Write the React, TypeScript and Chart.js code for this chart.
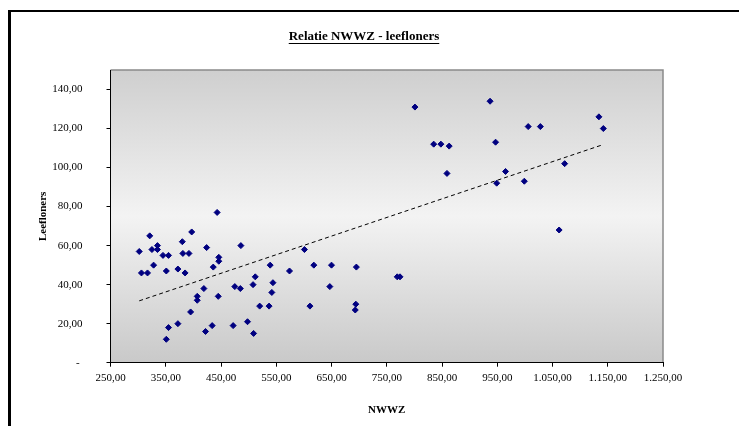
import React, { useEffect, useRef } from "react";
import { Chart, registerables } from "chart.js";

Chart.register(...registerables);

const nwwz = [
  443, 321, 397, 380, 302, 325, 335, 335, 345, 355, 381, 392, 424, 486, 446, 446,
  328, 306, 317, 351, 372, 385, 436, 539, 512, 508, 475, 485, 419, 407, 407, 445,
  520, 537, 542, 395, 355, 372, 351, 434, 422, 472, 498, 509, 601, 618, 650, 695,
  574, 769, 774, 544, 647, 611, 694, 693, 801, 937, 835, 848, 863, 947, 859, 949,
  1006, 1028, 1134, 1142, 965, 999, 1072, 1062,
];
const leefloners = [
  77, 65, 67, 62, 57, 58, 60, 58, 55, 55, 56, 56, 59, 60, 54, 52,
  50, 46, 46, 47, 48, 46, 49, 50, 44, 40, 39, 38, 38, 34, 32, 34,
  29, 29, 36, 26, 18, 20, 12, 19, 16, 19, 21, 15, 58, 50, 50, 49,
  47, 44, 44, 41, 39, 29, 30, 27, 131, 134, 112, 112, 111, 113, 97, 92,
  121, 121, 126, 120, 98, 93, 102, 68,
];
const trendX = [302, 1142];
const trendY = [31.7, 111.8];

const xTicks = [250, 350, 450, 550, 650, 750, 850, 950, 1050, 1150, 1250];
const yTicks = [0, 20, 40, 60, 80, 100, 120, 140];

const titleText = "Relatie NWWZ - leefloners";
const xTitle = "NWWZ";
const yTitle = "Leefloners";

const SERIF = '"Liberation Serif", "Times New Roman", serif';

function fmt(v: number): string {
  if (v === 0) return "- ";
  const parts = v.toFixed(2).split(".");
  const int = parts[0].replace(/\B(?=(\d{3})+(?!\d))/g, ".");
  return int + "," + parts[1];
}

const decor = {
  id: "decor",
  beforeDraw(chart: any) {
    const { ctx, chartArea: a } = chart;
    ctx.save();
    ctx.fillStyle = "#fff";
    ctx.fillRect(0, 0, chart.width, chart.height);
    // chart border
    ctx.fillStyle = "#000";
    ctx.fillRect(8, 10, 3, chart.height - 10);
    ctx.fillRect(8, 10, chart.width - 8, 2);
    // plot gradient
    const g = ctx.createLinearGradient(0, a.top, 0, a.bottom);
    g.addColorStop(0, "#cfcfcf");
    g.addColorStop(0.5, "#f3f3f3");
    g.addColorStop(1, "#c9c9c9");
    ctx.fillStyle = g;
    ctx.fillRect(a.left, a.top, a.right - a.left, a.bottom - a.top);
    // top/right border
    ctx.strokeStyle = "#8a8a8a";
    ctx.lineWidth = 1.5;
    ctx.beginPath();
    ctx.moveTo(a.left, a.top);
    ctx.lineTo(a.right, a.top);
    ctx.lineTo(a.right, a.bottom);
    ctx.stroke();
    ctx.restore();
  },
  afterDraw(chart: any) {
    const { ctx } = chart;
    ctx.save();
    ctx.font = "bold 13px " + SERIF;
    ctx.fillStyle = "#000";
    ctx.textAlign = "center";
    ctx.textBaseline = "middle";
    const cx = 364;
    const cy = 37;
    ctx.fillText(titleText, cx, cy);
    const w = ctx.measureText(titleText).width;
    ctx.fillRect(cx - w / 2, cy + 6, w, 1);
    ctx.restore();
  },
};

export default function App() {
  const ref = useRef<HTMLCanvasElement | null>(null);
  useEffect(() => {
    if (!ref.current) return;
    const chart = new Chart(ref.current, {
      type: "scatter",
      data: {
        datasets: [
          {
            label: "Trend",
            data: trendX.map((x, i) => ({ x, y: trendY[i] })),
            showLine: true,
            borderColor: "#000",
            borderWidth: 1,
            borderDash: [4, 3],
            pointRadius: 0,
            fill: false,
          } as any,
          {
            label: "Leefloners",
            data: nwwz.map((x, i) => ({ x, y: leefloners[i] })),
            pointStyle: "rectRot",
            pointRadius: 3,
            backgroundColor: "#000080",
            borderColor: "#000080",
            borderWidth: 1,
          },
        ],
      },
      plugins: [decor],
      options: {
        responsive: false,
        animation: false,
        layout: { padding: { left: 0, right: 76, top: 70, bottom: 0 } },
        plugins: {
          legend: { display: false },
          tooltip: { enabled: false },
          title: { display: false },
        },
        scales: {
          x: {
            type: "linear",
            min: 250,
            max: 1250,
            afterBuildTicks: (s: any) => {
              s.ticks = xTicks.map((v) => ({ value: v }));
            },
            afterFit: (s: any) => {
              s.height = 63.3;
            },
            border: { display: true, color: "#000", width: 1 },
            grid: { display: true, drawOnChartArea: false, drawTicks: true, tickLength: 4, color: "#000" },
            ticks: {
              color: "#000",
              font: { family: SERIF, size: 11 },
              padding: 5,
              maxRotation: 0,
              autoSkip: false,
              callback: (v: any) => fmt(Number(v)),
            },
            title: {
              display: true,
              text: xTitle,
              color: "#000",
              font: { family: SERIF, size: 11, weight: "bold" },
              padding: { top: 9, bottom: 9 },
            },
          },
          y: {
            type: "linear",
            min: 0,
            max: 150,
            afterBuildTicks: (s: any) => {
              s.ticks = yTicks.map((v) => ({ value: v }));
            },
            afterFit: (s: any) => {
              s.width = 110.5;
            },
            border: { display: true, color: "#000", width: 1 },
            grid: { display: true, drawOnChartArea: false, drawTicks: true, tickLength: 4, color: "#000" },
            ticks: {
              color: "#000",
              font: { family: SERIF, size: 11 },
              padding: 24,
              autoSkip: false,
              callback: (v: any) => fmt(Number(v)),
            },
            title: {
              display: true,
              text: yTitle,
              color: "#000",
              font: { family: SERIF, size: 11, weight: "bold" },
              padding: { top: 37, bottom: 37 },
            },
          },
        },
      },
    } as any);
    return () => chart.destroy();
  }, []);
  return (
    <div style={{ position: "fixed", left: 0, top: 0, width: 739, height: 426 }}>
      <canvas ref={ref} width={739} height={426} />
    </div>
  );
}
